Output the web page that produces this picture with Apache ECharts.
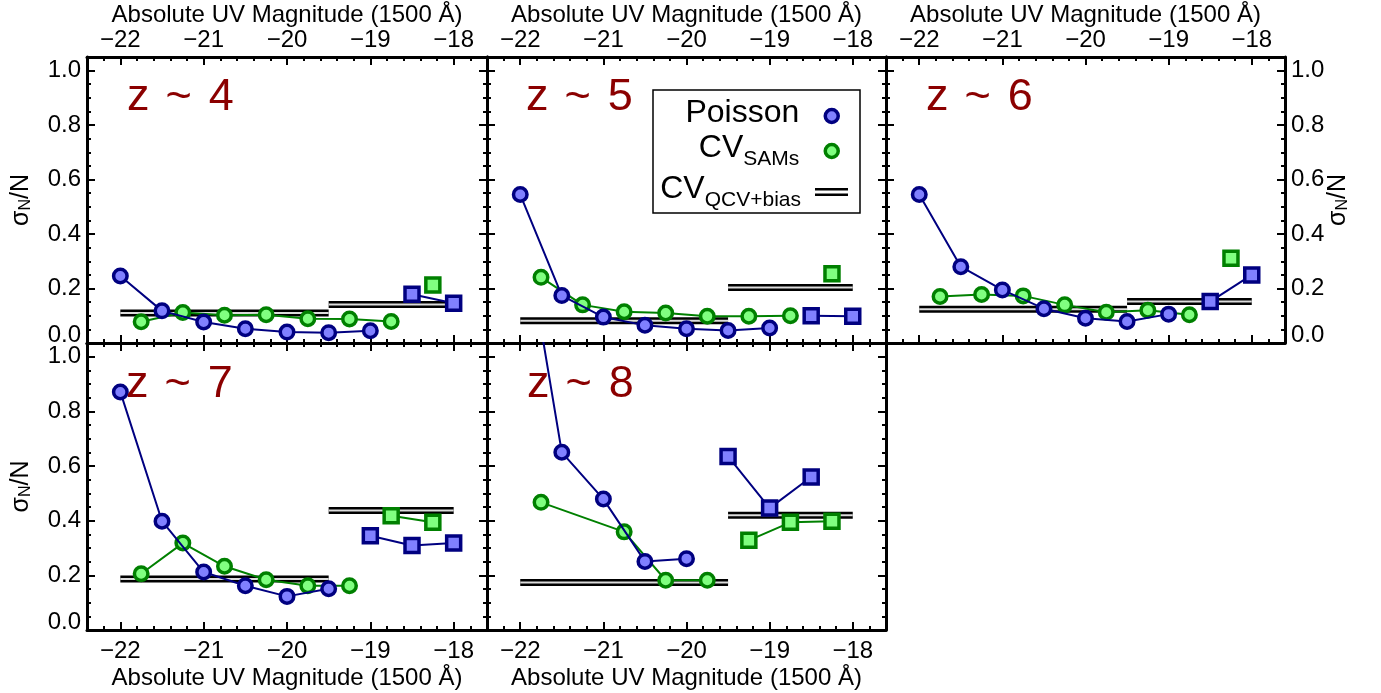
<!DOCTYPE html>
<html><head><meta charset="utf-8">
<script src="https://cdn.jsdelivr.net/npm/echarts@6/dist/echarts.min.js"></script>
<style>html,body{margin:0;padding:0;background:#fff}#c{width:1381px;height:693px}</style>
</head><body><div id="c"></div>
<script>
// ---------------- data ----------------
const redshifts = ['4', '5', '6', '7', '8'];
const xTicks = [-22, -21, -20, -19, -18];
const yTicks = [0, 0.2, 0.4, 0.6, 0.8, 1.0];
const xRange = [-22.4, -17.6];
const yRange = [0, 1.05];

// Poisson uncertainty, bright bins (circles)
const poissonCircleMag = [
  [-22, -21.5, -21, -20.5, -20, -19.5, -19],
  [-22, -21.5, -21, -20.5, -20, -19.5, -19],
  [-22, -21.5, -21, -20.5, -20, -19.5, -19],
  [-22, -21.5, -21, -20.5, -20, -19.5],
  [-22, -21.5, -21, -20.5, -20]
];
const poissonCircleVal = [
  [0.246, 0.118, 0.077, 0.052, 0.040, 0.038, 0.045],
  [0.545, 0.174, 0.095, 0.065, 0.052, 0.046, 0.055],
  [0.545, 0.280, 0.195, 0.126, 0.091, 0.079, 0.106],
  [0.871, 0.398, 0.212, 0.162, 0.123, 0.151],
  [1.56, 0.650, 0.479, 0.251, 0.261]
];
// Poisson uncertainty, faint bins (squares)
const poissonSquareMag = [
  [-18.5, -18], [-18.5, -18], [-18.5, -18], [-19, -18.5, -18], [-19.5, -19, -18.5]
];
const poissonSquareVal = [
  [0.179, 0.146], [0.100, 0.098], [0.152, 0.250], [0.345, 0.309, 0.318], [0.635, 0.446, 0.560]
];
// Cosmic variance from SAMs, bright bins (circles)
const samsCircleMag = [
  [-21.75, -21.25, -20.75, -20.25, -19.75, -19.25, -18.75],
  [-21.75, -21.25, -20.75, -20.25, -19.75, -19.25, -18.75],
  [-21.75, -21.25, -20.75, -20.25, -19.75, -19.25, -18.75],
  [-21.75, -21.25, -20.75, -20.25, -19.75, -19.25],
  [-21.75, -20.75, -20.25, -19.75]
];
const samsCircleVal = [
  [0.078, 0.112, 0.102, 0.104, 0.089, 0.088, 0.079],
  [0.241, 0.140, 0.115, 0.110, 0.098, 0.098, 0.100],
  [0.171, 0.178, 0.173, 0.140, 0.113, 0.120, 0.104],
  [0.206, 0.318, 0.233, 0.184, 0.162, 0.162],
  [0.467, 0.359, 0.182, 0.182]
];
// Cosmic variance from SAMs, faint bins (squares)
const samsSquareMag = [[-18.25], [-18.25], [-18.25], [-18.75, -18.25], [-19.25, -18.75, -18.25]];
const samsSquareVal = [[0.213], [0.254], [0.311], [0.418, 0.394], [0.328, 0.394, 0.398]];
// CV QCV+bias (double lines)
const qcvBrightRange = [-22, -19.5];
const qcvFaintRange = [-19.5, -18];
const qcvBright = [0.110, 0.082, 0.124, 0.187, 0.174];
const qcvFaint = [0.141, 0.204, 0.152, 0.437, 0.420];

// ---------------- layout ----------------
const FONT = "'Liberation Sans', Arial, Helvetica, sans-serif";
const gridBoxes = [
  {left: 87, top: 57, width: 400, height: 286},
  {left: 487, top: 57, width: 399, height: 286},
  {left: 886, top: 57, width: 399, height: 286},
  {left: 87, top: 343, width: 400, height: 287},
  {left: 487, top: 343, width: 399, height: 287}
];
const zLeft = [127, 526, 926, 126, 527];
const zTop = [75, 75, 75, 362, 362];

const NAVY = '#000080', LBLUE = '#8080ff', DGREEN = '#008000', LGREEN = '#80ff80';

function pts(xs, ys) { return xs.map((x, k) => [x, ys[k]]); }
function r2(v) { return Math.round(v * 1000) / 1000; }

const xMinor = [];
for (let k = 1; k < 24; k++) { const v = r2(xRange[0] + k * 0.2); if (Math.abs(v - Math.round(v)) > 1e-6) xMinor.push(v); }
const yMinor = [];
for (let k = 1; k <= 20; k++) { const v = r2(k * 0.05); if (Math.abs(v * 5 - Math.round(v * 5)) > 1e-6) yMinor.push(v); }

const xFmt = v => (v < 0 ? '\u2212' + Math.abs(v) : String(v));
const yFmt = v => (Math.abs(v) < 1e-9 ? '{z|0.0}' : v.toFixed(1));

const grids = [], xAxes = [], yAxes = [], series = [];
const xName = 'Absolute UV Magnitude (1500 \u00c5)';
const yName = '{s|\u03c3}{n|N}{s|/N}';

gridBoxes.forEach((g, i) => {
  grids.push(Object.assign({outerBoundsMode: 'none', containLabel: false}, g));
  const topRow = i < 3;
  const mkX = (pos, major, showLab) => ({
    type: 'value', gridIndex: i, position: pos, min: xRange[0], max: xRange[1],
    axisLine: {show: major, onZero: false, lineStyle: {color: '#000', width: 3}},
    axisTick: {show: true, inside: true, length: major ? 8 : 4, customValues: major ? xTicks : xMinor,
      lineStyle: {color: '#000', width: 2}},
    axisLabel: {show: showLab, customValues: xTicks, formatter: xFmt, color: '#000', fontSize: 24,
      fontFamily: FONT, margin: pos === 'top' ? 5 : 9},
    splitLine: {show: false}, minorTick: {show: false},
    name: showLab ? xName : '', nameLocation: 'middle', nameGap: pos === 'top' ? 30 : 36,
    nameMoveOverlap: false,
    nameTextStyle: {color: '#000', fontSize: 24, fontFamily: FONT}
  });
  const mkY = (pos, major, showLab) => ({
    type: 'value', gridIndex: i, position: pos, min: yRange[0], max: yRange[1],
    axisLine: {show: major, onZero: false, lineStyle: {color: '#000', width: 3}},
    axisTick: {show: true, inside: true, length: major ? 8 : 4, customValues: major ? yTicks : yMinor,
      lineStyle: {color: '#000', width: 2}},
    axisLabel: {show: showLab, customValues: yTicks, formatter: yFmt, color: '#000', fontSize: 24,
      fontFamily: FONT, margin: 6,
      rich: {z: {fontSize: 24, fontFamily: FONT, color: '#000', padding: [0, 0, 16, 0]}}},
    splitLine: {show: false}, minorTick: {show: false},
    name: showLab ? yName : '', nameLocation: 'middle', nameRotate: 90,
    nameGap: pos === 'left' ? 53 : 41, nameMoveOverlap: false,
    nameTextStyle: {color: '#000', fontFamily: FONT, fontSize: 25,
      rich: {s: {fontSize: 25, fontFamily: FONT, color: '#000'},
             n: {fontSize: 16, fontFamily: FONT, color: '#000', verticalAlign: 'bottom'}}}
  });
  xAxes.push(mkX('bottom', true, !topRow), mkX('top', true, topRow), mkX('bottom', false, false), mkX('top', false, false));
  yAxes.push(mkY('left', true, i === 0 || i === 3), mkY('right', true, i === 2), mkY('left', false, false), mkY('right', false, false));

  const base = {type: 'line', xAxisIndex: 4 * i, yAxisIndex: 4 * i, animation: false,
    emphasis: {disabled: true}, clip: true};
  // double lines
  [[qcvBrightRange, qcvBright[i]], [qcvFaintRange, qcvFaint[i]]].forEach(([rg, v]) => {
    const d = pts(rg, [v, v]);
    series.push(Object.assign({}, base, {name: 'CV_QCV+bias', data: d, symbol: 'none', z: 2,
      itemStyle: {color: '#000'}, lineStyle: {color: '#000', width: 7}}));
    series.push(Object.assign({}, base, {name: 'gap', data: d, symbol: 'none', z: 2, silent: true,
      itemStyle: {color: '#dcdcdc'}, lineStyle: {color: '#dcdcdc', width: 2}}));
  });
  // SAMs
  series.push(Object.assign({}, base, {name: 'CV_SAMs', data: pts(samsCircleMag[i], samsCircleVal[i]),
    symbol: 'circle', symbolSize: 13.5, z: 3,
    itemStyle: {color: LGREEN, borderColor: DGREEN, borderWidth: 3.5}, lineStyle: {color: DGREEN, width: 2}}));
  series.push(Object.assign({}, base, {name: 'CV_SAMs', data: pts(samsSquareMag[i], samsSquareVal[i]),
    symbol: 'rect', symbolSize: 14, z: 3,
    itemStyle: {color: LGREEN, borderColor: DGREEN, borderWidth: 3.5}, lineStyle: {color: DGREEN, width: 2}}));
  // Poisson
  series.push(Object.assign({}, base, {name: 'Poisson', data: pts(poissonCircleMag[i], poissonCircleVal[i]),
    symbol: 'circle', symbolSize: 13.5, z: 4,
    itemStyle: {color: LBLUE, borderColor: NAVY, borderWidth: 3.5}, lineStyle: {color: NAVY, width: 2}}));
  series.push(Object.assign({}, base, {name: 'Poisson', data: pts(poissonSquareMag[i], poissonSquareVal[i]),
    symbol: 'rect', symbolSize: 14, z: 4,
    itemStyle: {color: LBLUE, borderColor: NAVY, borderWidth: 3.5}, lineStyle: {color: NAVY, width: 2}}));
});

const titles = redshifts.map((z, i) => ({
  text: '{a|z}{t|~}{a|' + z + '}', left: zLeft[i], top: zTop[i], padding: 0,
  textStyle: {fontWeight: 'normal', fontSize: 45, rich: {
    a: {fontSize: 45, fontWeight: 'normal', color: '#8b0000', fontFamily: FONT},
    t: {fontSize: 45, fontWeight: 'normal', color: '#8b0000', fontFamily: FONT, padding: [0, 17, 0, 16]}
  }}
}));

const legendCommon = {orient: 'vertical', align: 'right', padding: 0, selectedMode: false};
const legends = [
  Object.assign({}, legendCommon, {data: ['Poisson'], right: 541, top: 97, itemWidth: 13, itemHeight: 13,
    icon: 'circle', itemStyle: {borderWidth: 3.5},
    formatter: () => '{p|Poisson}',
    textStyle: {rich: {p: {fontSize: 32, fontFamily: FONT, color: '#000', padding: [0, 21, 6, 0]}}}}),
  Object.assign({}, legendCommon, {data: ['CV_SAMs'], right: 541, top: 132.5, itemWidth: 13, itemHeight: 13,
    icon: 'circle', itemStyle: {borderWidth: 3.5},
    formatter: () => '{m|CV}{s|SAMs}',
    textStyle: {rich: {m: {fontSize: 32, fontFamily: FONT, color: '#000', padding: [0, 0, 5, 0]},
      s: {fontSize: 21, fontFamily: FONT, color: '#000', verticalAlign: 'bottom', padding: [0, 21, 0, 0]}}}}),
  Object.assign({}, legendCommon, {data: ['CV_QCV+bias'], right: 533, top: 173.5, itemWidth: 33, itemHeight: 8,
    icon: 'path://M0,0H33V2.6H0ZM0,5.4H33V8H0Z',
    formatter: () => '{m|CV}{s|QCV+bias}',
    textStyle: {rich: {m: {fontSize: 32, fontFamily: FONT, color: '#000', padding: [0, 0, 5, 0]},
      s: {fontSize: 21, fontFamily: FONT, color: '#000', verticalAlign: 'bottom', padding: [0, 9, 0, 0]}}}})
];

const chart = echarts.init(document.getElementById('c'), null, {renderer: 'canvas'});
chart.setOption({
  animation: false,
  backgroundColor: '#fff',
  textStyle: {fontFamily: FONT},
  title: titles,
  legend: legends,
  grid: grids,
  xAxis: xAxes,
  yAxis: yAxes,
  series: series,
  graphic: [{type: 'rect', shape: {x: 653, y: 90, width: 207, height: 123},
    style: {fill: null, stroke: '#000', lineWidth: 1.5}, silent: true, z: 10}]
});
</script></body></html>
